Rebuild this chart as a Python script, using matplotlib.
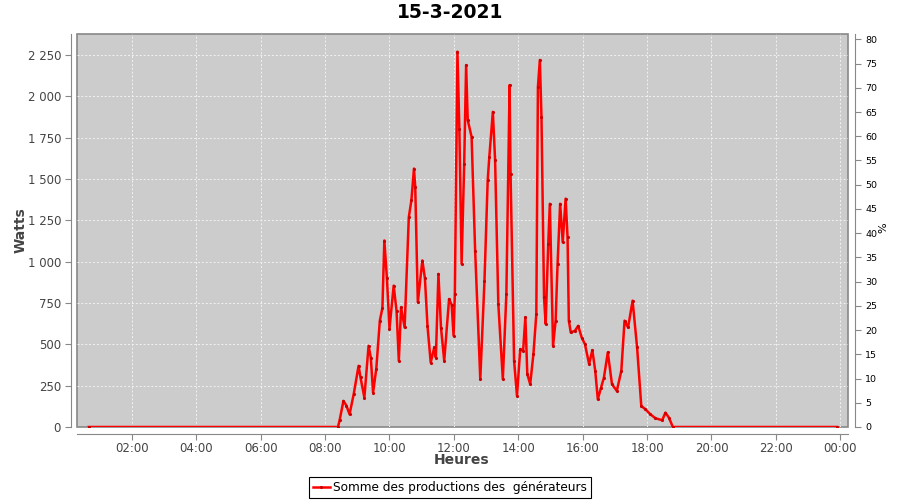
import matplotlib
matplotlib.use('Agg')
import matplotlib.pyplot as plt

# heures décimales / production en watts
hours = [0.66, 8.40, 8.45, 8.57, 8.66, 8.76, 8.89, 9.04, 9.10, 9.22, 9.35, 9.42, 9.49,
         9.59, 9.70, 9.78, 9.84, 9.92, 10.00, 10.13, 10.22, 10.29, 10.36, 10.47, 10.60,
         10.68, 10.76, 10.80, 10.88, 11.02, 11.10, 11.18, 11.28, 11.39, 11.44, 11.52,
         11.60, 11.70, 11.85, 11.93, 11.99, 12.03, 12.11, 12.17, 12.24, 12.32, 12.38,
         12.43, 12.55, 12.66, 12.82, 12.95, 13.05, 13.10, 13.21, 13.28, 13.38, 13.52,
         13.63, 13.73, 13.76, 13.87, 13.96, 14.06, 14.15, 14.22, 14.28, 14.37, 14.47,
         14.56, 14.61, 14.67, 14.72, 14.80, 14.85, 14.93, 14.98, 15.08, 15.16, 15.22,
         15.30, 15.38, 15.47, 15.53, 15.57, 15.63, 15.76, 15.86, 15.97, 16.07, 16.20,
         16.30, 16.39, 16.47, 16.57, 16.66, 16.78, 16.91, 17.06, 17.20, 17.30, 17.41,
         17.55, 17.69, 17.82, 17.95, 18.10, 18.26, 18.47, 18.57, 18.68, 18.80, 23.90]
watts = [0, 0, 40, 158, 130, 77, 200, 370, 300, 178, 491, 420, 208,
         352, 643, 720, 1128, 900, 594, 855, 700, 400, 724, 602, 1269,
         1370, 1563, 1450, 754, 1007, 900, 612, 390, 481, 420, 926,
         600, 400, 774, 740, 552, 805, 2270, 1800, 987, 1593, 2189,
         1856, 1755, 1067, 289, 885, 1492, 1633, 1906, 1613, 744, 289,
         805, 2068, 1532, 400, 188, 471, 461, 663, 320, 259, 441,
         683, 2058, 2220, 1876, 784, 623, 1108, 1350, 491, 643, 987,
         1350, 1118, 1381, 1148, 643, 572, 582, 612, 541, 501, 380,
         465, 340, 168, 238, 299, 451, 259, 218, 340, 643, 602,
         764, 481, 127, 107, 77, 53, 41, 87, 56, 0, 0]

x_ticks = [2, 4, 6, 8, 10, 12, 14, 16, 18, 20, 22, 24]
x_labels = ['02:00', '04:00', '06:00', '08:00', '10:00', '12:00',
            '14:00', '16:00', '18:00', '20:00', '22:00', '00:00']
w_ticks = [0, 250, 500, 750, 1000, 1250, 1500, 1750, 2000, 2250]
w_labels = ['0', '250', '500', '750', '1 000', '1 250', '1 500', '1 750', '2 000', '2 250']
pct_ticks = list(range(0, 85, 5))

grey = '#444444'
edge = '#888888'


def graph():
  fig = plt.figure(figsize=(9, 5), dpi=100)
  ax = fig.add_axes([77 / 900, 1 - 427 / 500, 771 / 900, 393 / 500])
  ax.set_facecolor('#cccccc')
  ax.patch.set_edgecolor(edge)
  ax.patch.set_linewidth(1.2)

  ax.plot(hours, watts, color='red', lw=1.8, marker='.', ms=2.5, mfc='#cc0000', mec='#cc0000',
          label='Somme des productions des  générateurs')

  ax.set_xlim(0.295, 24.24)
  ax.set_ylim(0, 2377)
  ax.set_xticks(x_ticks)
  ax.set_xticklabels(x_labels)
  ax.set_yticks(w_ticks)
  ax.set_yticklabels(w_labels)
  ax.tick_params(colors=edge, labelcolor=grey, labelsize=8.5, length=4, width=0.8)
  ax.tick_params(axis='x', pad=1.5)

  ax.grid(True, color='#f2f2f2', linestyle=(0, (2, 2)), linewidth=0.7)
  ax.set_axisbelow(True)

  for s in ['top', 'right']:
    ax.spines[s].set_visible(False)
  ax.spines['left'].set_position(('outward', 4))
  ax.spines['bottom'].set_position(('outward', 5))
  ax.spines['left'].set_color(edge)
  ax.spines['bottom'].set_color(edge)

  ax2 = ax.twinx()
  ax2.set_ylim(0, 81.1)
  ax2.set_yticks(pct_ticks)
  ax2.tick_params(colors=edge, labelcolor='black', labelsize=6.8, length=4, width=0.8)
  for s in ['top', 'left', 'bottom']:
    ax2.spines[s].set_visible(False)
  ax2.spines['right'].set_position(('outward', 5))
  ax2.spines['right'].set_color(edge)

  fig.text(450 / 900, 1 - 13 / 500, '15-3-2021', ha='center', va='center',
           fontsize=13.5, fontweight='bold')
  fig.text(462 / 900, 1 - 460 / 500, 'Heures', ha='center', va='center',
           fontsize=10, fontweight='bold', color=grey)
  fig.text(21 / 900, 1 - 230 / 500, 'Watts', ha='center', va='center', rotation=90,
           fontsize=10, fontweight='bold', color=grey)
  fig.text(883 / 900, 1 - 228 / 500, '%', ha='center', va='center', rotation=90,
           fontsize=8, color='black')

  leg = fig.legend(loc='center', bbox_to_anchor=(450 / 900, 1 - 487.5 / 500), fontsize=8.7,
                   frameon=True, fancybox=False, edgecolor='black', framealpha=1,
                   handlelength=1.4, handletextpad=0.3, borderpad=0.3, borderaxespad=0)
  leg.get_frame().set_linewidth(0.8)

  fig.savefig('out.png', dpi=100)


def main():
  graph()


if __name__ == "__main__":
  main()
